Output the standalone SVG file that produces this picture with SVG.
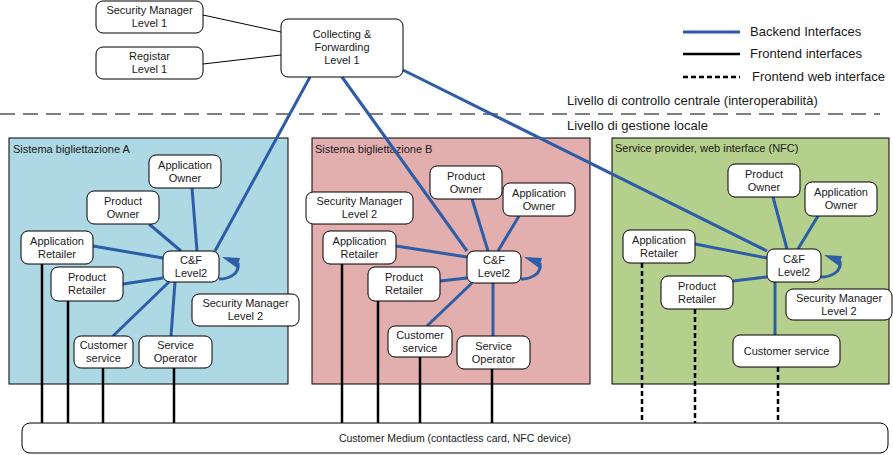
<svg xmlns="http://www.w3.org/2000/svg" xmlns:xlink="http://www.w3.org/1999/xlink" width="893" height="455" viewBox="0 0 893 455">
<style>
text{font-family:"Liberation Sans",Arial,sans-serif;fill:#1a1a1a}
.t{font-size:11px;text-anchor:middle}
.lbl{font-size:11px}
.big{font-size:13px}
.node{fill:#fff;stroke:#000;stroke-width:1}
.be{stroke:#2e5da8;stroke-width:3;fill:none}
.fe{stroke:#000;stroke-width:2.5}
.fw{stroke:#000;stroke-width:2.5;stroke-dasharray:5 3}
.panel{stroke:#000;stroke-width:1}
</style>
<defs>
<g id="loop"><path d="M0,28 C10,28 21,23 19,12" class="be"/><polygon points="3,6 21,7 18,17" fill="#2e5da8"/></g>
</defs>
<rect width="893" height="455" fill="#fff"/>
<!-- panels -->
<g id="panelA"><rect class="panel" x="9" y="138" width="279" height="246" fill="#add8e4"/><text class="lbl" x="13" y="153">Sistema bigliettazione A</text></g>
<g id="panelB"><rect class="panel" x="312" y="138" width="278" height="246" fill="#e2afae"/><text class="lbl" x="315" y="153">Sistema bigliettazione B</text></g>
<g id="panelC"><rect class="panel" x="612" y="138" width="277" height="246" fill="#b5cf8c"/><text class="lbl" x="615" y="152">Service provider, web interface (NFC)</text></g>
<!-- level separator -->
<g id="levels">
<line x1="0" y1="114" x2="880" y2="114" stroke="#000" stroke-width="1" stroke-dasharray="15 8"/>
<text class="big" x="567" y="105">Livello di controllo centrale (interoperabilità)</text>
<text class="big" x="567" y="130">Livello di gestione locale</text>
</g>
<!-- legend -->
<g id="legend">
<line x1="683" y1="32" x2="740" y2="32" class="be"/><text class="big" x="750" y="36">Backend Interfaces</text>
<line x1="683" y1="54" x2="740" y2="54" class="fe"/><text class="big" x="750" y="58">Frontend interfaces</text>
<line x1="683" y1="77" x2="740" y2="77" class="fw"/><text class="big" x="752" y="81">Frontend web interface</text>
</g>
<!-- connectors -->
<g id="connectors">
<line x1="203" y1="15" x2="281" y2="32" stroke="#000" stroke-width="1"/>
<line x1="203" y1="64" x2="281" y2="55" stroke="#000" stroke-width="1"/>
<line class="be" x1="310" y1="77" x2="215" y2="251"/>
<line class="be" x1="342" y1="77" x2="467" y2="251"/>
<line class="be" x1="403" y1="70" x2="767" y2="251"/>
<!-- A -->
<line class="be" x1="192" y1="188" x2="197" y2="251"/>
<line class="be" x1="149" y1="224" x2="181" y2="251"/>
<line class="be" x1="93" y1="246" x2="163" y2="258"/>
<line class="be" x1="123" y1="284" x2="163" y2="278"/>
<line class="be" x1="113" y1="336" x2="169" y2="282"/>
<line class="be" x1="171" y1="336" x2="175" y2="282"/>
<use xlink:href="#loop" href="#loop" transform="translate(219,251)"/>
<!-- B -->
<line class="be" x1="472" y1="199" x2="488" y2="251"/>
<line class="be" x1="519" y1="216" x2="498" y2="251"/>
<line class="be" x1="396" y1="246" x2="467" y2="257"/>
<line class="be" x1="440" y1="281" x2="467" y2="278"/>
<line class="be" x1="427" y1="326" x2="472" y2="283"/>
<line class="be" x1="493" y1="336" x2="493" y2="283"/>
<use xlink:href="#loop" href="#loop" transform="translate(521,251)"/>
<!-- C -->
<line class="be" x1="773" y1="197" x2="787" y2="249"/>
<line class="be" x1="818" y1="216" x2="798" y2="249"/>
<line class="be" x1="695" y1="244" x2="767" y2="258"/>
<line class="be" x1="733" y1="281" x2="767" y2="277"/>
<line class="be" x1="775" y1="282" x2="775" y2="335"/>
<use xlink:href="#loop" href="#loop" transform="translate(821,249)"/>
<!-- frontend -->
<line class="fe" x1="42" y1="264" x2="42" y2="423"/>
<line class="fe" x1="68" y1="301" x2="68" y2="423"/>
<line class="fe" x1="103" y1="368" x2="103" y2="423"/>
<line class="fe" x1="174" y1="368" x2="174" y2="423"/>
<line class="fe" x1="342" y1="264" x2="342" y2="423"/>
<line class="fe" x1="378" y1="301" x2="378" y2="423"/>
<line class="fe" x1="420" y1="357" x2="420" y2="423"/>
<line class="fe" x1="492" y1="369" x2="492" y2="423"/>
<line class="fw" x1="642" y1="263" x2="642" y2="423"/>
<line class="fw" x1="695" y1="309" x2="695" y2="423"/>
<line class="fw" x1="778" y1="367" x2="778" y2="423"/>
</g>
<!-- nodes -->
<g id="sm1"><rect class="node" x="96" y="1" width="107" height="32" rx="7"/><text class="t" x="149.5" y="14">Security Manager<tspan x="149.5" dy="13">Level 1</tspan></text></g>
<g id="reg1"><rect class="node" x="96" y="47" width="107" height="32" rx="7"/><text class="t" x="149.5" y="60">Registar<tspan x="149.5" dy="13">Level 1</tspan></text></g>
<g id="cf1"><rect class="node" x="281" y="19" width="122" height="58" rx="7"/><text class="t" x="342" y="38">Collecting &amp;<tspan x="342" dy="13">Forwarding</tspan><tspan x="342" dy="13">Level 1</tspan></text></g>

<g id="a-ao"><rect class="node" x="149" y="155" width="72" height="33" rx="7"/><text class="t" x="185" y="169">Application<tspan x="185" dy="12.5">Owner</tspan></text></g>
<g id="a-po"><rect class="node" x="87" y="191" width="72" height="33" rx="7"/><text class="t" x="123" y="205">Product<tspan x="123" dy="12.5">Owner</tspan></text></g>
<g id="a-ar"><rect class="node" x="21" y="231" width="72" height="33" rx="7"/><text class="t" x="57" y="245">Application<tspan x="57" dy="12.5">Retailer</tspan></text></g>
<g id="a-pr"><rect class="node" x="51" y="267" width="72" height="34" rx="7"/><text class="t" x="87" y="281">Product<tspan x="87" dy="12.5">Retailer</tspan></text></g>
<g id="a-cf"><rect class="node" x="163" y="251" width="56" height="31" rx="7"/><text class="t" x="191" y="264">C&amp;F<tspan x="191" dy="12.5">Level2</tspan></text></g>
<g id="a-sm"><rect class="node" x="192" y="294" width="107" height="32" rx="7"/><text class="t" x="245.5" y="307">Security Manager<tspan x="245.5" dy="12.5">Level 2</tspan></text></g>
<g id="a-cs"><rect class="node" x="74" y="336" width="59" height="32" rx="7"/><text class="t" x="103.5" y="349">Customer<tspan x="103.5" dy="12.5">service</tspan></text></g>
<g id="a-so"><rect class="node" x="139" y="336" width="73" height="32" rx="7"/><text class="t" x="175.5" y="349">Service<tspan x="175.5" dy="12.5">Operator</tspan></text></g>

<g id="b-po"><rect class="node" x="430" y="166" width="72" height="33" rx="7"/><text class="t" x="466" y="180">Product<tspan x="466" dy="12.5">Owner</tspan></text></g>
<g id="b-ao"><rect class="node" x="503" y="183" width="72" height="33" rx="7"/><text class="t" x="539" y="197">Application<tspan x="539" dy="12.5">Owner</tspan></text></g>
<g id="b-sm"><rect class="node" x="306" y="192" width="107" height="32" rx="7"/><text class="t" x="359.5" y="205">Security Manager<tspan x="359.5" dy="12.5">Level 2</tspan></text></g>
<g id="b-ar"><rect class="node" x="323" y="231" width="73" height="33" rx="7"/><text class="t" x="359.5" y="245">Application<tspan x="359.5" dy="12.5">Retailer</tspan></text></g>
<g id="b-pr"><rect class="node" x="368" y="267" width="72" height="34" rx="7"/><text class="t" x="404" y="281">Product<tspan x="404" dy="12.5">Retailer</tspan></text></g>
<g id="b-cf"><rect class="node" x="467" y="251" width="54" height="32" rx="7"/><text class="t" x="494" y="264">C&amp;F<tspan x="494" dy="12.5">Level2</tspan></text></g>
<g id="b-cs"><rect class="node" x="388" y="326" width="64" height="31" rx="7"/><text class="t" x="420" y="339">Customer<tspan x="420" dy="12.5">service</tspan></text></g>
<g id="b-so"><rect class="node" x="457" y="336" width="73" height="33" rx="7"/><text class="t" x="493.5" y="350">Service<tspan x="493.5" dy="12.5">Operator</tspan></text></g>

<g id="c-po"><rect class="node" x="728" y="164" width="72" height="33" rx="7"/><text class="t" x="764" y="178">Product<tspan x="764" dy="12.5">Owner</tspan></text></g>
<g id="c-ao"><rect class="node" x="805" y="182" width="72" height="34" rx="7"/><text class="t" x="841" y="196">Application<tspan x="841" dy="12.5">Owner</tspan></text></g>
<g id="c-ar"><rect class="node" x="623" y="230" width="72" height="33" rx="7"/><text class="t" x="659" y="244">Application<tspan x="659" dy="12.5">Retailer</tspan></text></g>
<g id="c-pr"><rect class="node" x="661" y="276" width="72" height="33" rx="7"/><text class="t" x="697" y="290">Product<tspan x="697" dy="12.5">Retailer</tspan></text></g>
<g id="c-cf"><rect class="node" x="767" y="249" width="54" height="33" rx="7"/><text class="t" x="794" y="263">C&amp;F<tspan x="794" dy="12.5">Level2</tspan></text></g>
<g id="c-sm"><rect class="node" x="786" y="289" width="106" height="31" rx="7"/><text class="t" x="839" y="302">Security Manager<tspan x="839" dy="12.5">Level 2</tspan></text></g>
<g id="c-cs"><rect class="node" x="733" y="335" width="107" height="32" rx="7"/><text class="t" x="786.5" y="355">Customer service</text></g>

<g id="medium"><rect class="node" x="22" y="423" width="866" height="30" rx="8"/><text class="t" x="455" y="442" style="font-size:10.5px">Customer Medium (contactless card, NFC device)</text></g>
</svg>
